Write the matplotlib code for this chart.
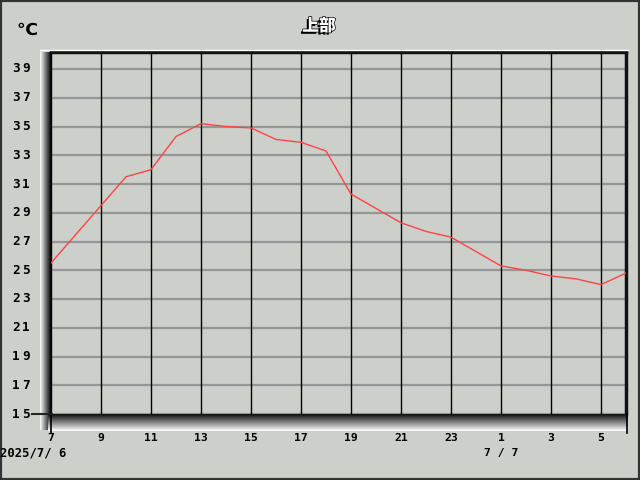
import matplotlib
matplotlib.use("Agg")
import matplotlib.pyplot as plt
import matplotlib.patheffects as pe
import numpy as np
from matplotlib.patches import Rectangle
from matplotlib.lines import Line2D

hours = list(range(7, 31))
temps = [25.5, 27.5, 29.5, 31.5, 32.0, 34.3, 35.2, 35.0, 34.9, 34.1, 33.9, 33.3,
         30.3, 29.3, 28.3, 27.7, 27.3, 26.3, 25.3, 25.0, 24.6, 24.4, 24.0, 24.8]
xtick_pos = list(range(7, 30, 2))
xtick_labels = ["7", "9", "11", "13", "15", "17", "19", "21", "23", "1", "3", "5"]
ytick_vals = list(range(15, 40, 2))
title = "上部"
unit = "℃"
date1 = "2025/7/ 6"
date2 = "7 / 7"

W, H = 640, 480
bg = "#cdcfcb"
fig = plt.figure(figsize=(6.4, 4.8), dpi=100, facecolor=bg)

def fx(px):
    return px / W

def fy(py):
    return 1 - py / H

L, R, T, B = 51, 626, 52, 414
ax = fig.add_axes([fx(L), fy(B), fx(R - L), (B - T) / H])
ax.set_facecolor(bg)
ymax = 15 + (B - T) / 14.375
ax.set_xlim(7, 30)
ax.set_ylim(15, ymax)
for v in ytick_vals:
    ax.axhline(v, color="#969696", lw=1.6, zorder=1)
for x in xtick_pos:
    ax.axvline(x, color="black", lw=1.0, zorder=1)
ax.plot(hours, temps, color="#ff4444", lw=1.0, zorder=3)
ax.set_xticks([])
ax.set_yticks([])
for s in ax.spines.values():
    s.set_visible(False)
ax.spines["top"].set_visible(True)
ax.spines["top"].set_linewidth(2.5)
ax.spines["top"].set_color("#111111")
ax.spines["right"].set_visible(True)
ax.spines["right"].set_linewidth(2.5)
ax.spines["right"].set_color("#111111")

# left 3D bar
grad_l = np.linspace(1, 0, 64).reshape(1, -1)
axl = fig.add_axes([fx(40), fy(430), fx(11), (430 - 52) / H])
axl.imshow(grad_l, cmap="gray", aspect="auto", vmin=0, vmax=1)
axl.axis("off")
# bottom 3D bar
grad_b = np.linspace(0.05, 1, 64).reshape(-1, 1)
axb = fig.add_axes([fx(48), fy(431), fx(580), 17 / H])
axb.imshow(grad_b, cmap="gray", aspect="auto", vmin=0, vmax=1)
axb.axis("off")

# top highlight line
fig.add_artist(Line2D([fx(40), fx(628)], [fy(50), fy(50)], color="white", lw=1))
# tick marks below
for xp in (L, R + 1):
    fig.add_artist(Line2D([fx(xp), fx(xp)], [fy(414), fy(433)], color="black", lw=1.2))
fig.add_artist(Line2D([fx(32), fx(52)], [fy(414), fy(414)], color="#222222", lw=1.5))

mono = dict(family="DejaVu Sans Mono", weight="bold", fontsize=8.2, color="black")
ymono = {**mono, "fontsize": 9.2}
for v in ytick_vals:
    ypx = B - (v - 15) * 14.375
    s = str(v)
    fig.text(fx(16), fy(ypx), s[0], ha="center", va="center", **ymono)
    fig.text(fx(26), fy(ypx), s[1], ha="center", va="center", **ymono)
for p, lab in zip(xtick_pos, xtick_labels):
    xpx = L + (p - 7) * 25
    fig.text(fx(xpx), fy(438), lab, ha="center", va="center", **mono)
fig.text(fx(0), fy(453), date1, ha="left", va="center",
         **{**mono, "fontsize": 8.8})
fig.text(fx(501), fy(453), date2, ha="center", va="center", **mono)

fig.text(fx(27), fy(30), unit, ha="center", va="center",
         family=["DejaVu Sans", "Noto Sans CJK JP"], weight="bold",
         fontsize=12.5, color="black")
t = fig.text(fx(319), fy(26), title, ha="center", va="center",
             family=["Noto Sans CJK JP", "DejaVu Sans"], weight="heavy",
             fontsize=12, color="white")
t.set_path_effects([pe.withSimplePatchShadow(offset=(-1.5, -1.5), shadow_rgbFace="black", alpha=1),
                    pe.Stroke(linewidth=1.0, foreground="black"), pe.Normal()])

# outer border
fig.add_artist(Rectangle((0, 0), 1, 1, transform=fig.transFigure, fill=False,
                         edgecolor="#333333", lw=3))

fig.savefig("out.png", dpi=100, facecolor=bg)
